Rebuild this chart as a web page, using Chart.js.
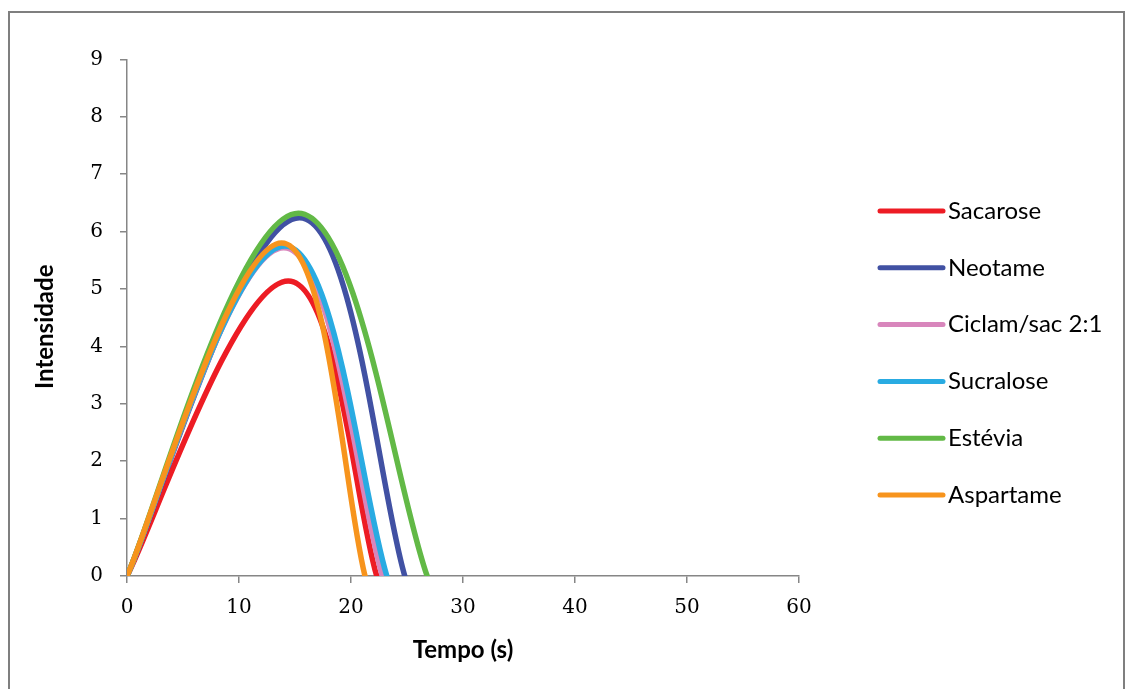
<!DOCTYPE html>
<html><head><meta charset="utf-8">
<script src="https://cdn.jsdelivr.net/npm/chart.js@4.4.0/dist/chart.umd.min.js"></script>
<style>
html,body{margin:0;padding:0;background:#fff;}
#wrap{position:relative;width:1130px;height:689px;overflow:hidden;background:#fff;}
#frame{position:absolute;left:8px;top:11px;width:1117px;height:720px;border:2.5px solid #7f7f7f;box-sizing:border-box;}
canvas{position:absolute;left:0;top:0;}
</style></head>
<body><div id="wrap"><div id="frame"></div><canvas id="c" width="1130" height="689"></canvas></div>
<script>
// ---- data (time-intensity curves) ----
const seriesNames = ['Sacarose', 'Neotame', 'Ciclam/sac 2:1', 'Sucralose', 'Estévia', 'Aspartame'];
const seriesColors = ['#ED1C24', '#4151A3', '#D886BC', '#29ABE2', '#62B946', '#F7941D'];

// time points: start, time of maximum intensity, total duration
const sacaroseT   = [0, 14.4, 22.3];
const sacaroseI   = [0, 5.14, 0];
const neotameT    = [0, 15.4, 24.8];
const neotameI    = [0, 6.24, 0];
const ciclamT     = [0, 14.0, 22.8];
const ciclamI     = [0, 5.72, 0];
const sucraloseT  = [0, 14.1, 23.2];
const sucraloseI  = [0, 5.75, 0];
const esteviaT    = [0, 15.3, 26.8];
const esteviaI    = [0, 6.32, 0];
const aspartameT  = [0, 13.8, 21.25];
const aspartameI  = [0, 5.8, 0];

const xTicks = [0, 10, 20, 30, 40, 50, 60];
const yTicks = [0, 1, 2, 3, 4, 5, 6, 7, 8, 9];
const xTitle = 'Tempo (s)';
const yTitle = 'Intensidade';

const allT = [sacaroseT, neotameT, ciclamT, sucraloseT, esteviaT, aspartameT];
const allI = [sacaroseI, neotameI, ciclamI, sucraloseI, esteviaI, aspartameI];

const datasets = seriesNames.map((name, i) => ({
  label: name,
  data: allT[i].map((t, k) => ({x: t, y: allI[i][k]})),
  borderColor: seriesColors[i],
  backgroundColor: seriesColors[i],
  borderWidth: 5.5,
  borderCapStyle: 'round',
  borderJoinStyle: 'round',
  pointRadius: 0,
  fill: false,
  tension: 0.4,
  order: seriesNames.length - i
}));

// Spreadsheet-style smoothing: shorter handles at the end points
const smoothEnds = {
  id: 'smoothEnds',
  beforeDatasetDraw(chart, args) {
    const meta = args.meta;
    meta.dataset.updateControlPoints(chart.chartArea, meta.iScale.axis);
    const pts = meta.data;
    const n = pts.length;
    if (n < 3) return;
    const a0 = 0.15, a1 = 0.25;
    const p0 = pts[0], p1 = pts[1];
    p0.cp2x = p0.x + a0 * (p1.x - p0.x);
    p0.cp2y = p0.y + a0 * (p1.y - p0.y);
    const pl = pts[n - 1], pk = pts[n - 2];
    pl.cp1x = pl.x - a1 * (pl.x - pk.x);
    pl.cp1y = pl.y - a1 * (pl.y - pk.y);
  }
};

const legendPlugin = {
  id: 'sideLegend',
  afterDraw(chart) {
    const ctx = chart.ctx;
    const ca = chart.chartArea;
    const x0 = ca.right + 81, x1 = ca.right + 144;
    ctx.save();
    seriesNames.forEach((name, i) => {
      const y = 211 + i * 56.8;
      ctx.strokeStyle = seriesColors[i];
      ctx.lineWidth = 5;
      ctx.lineCap = 'round';
      ctx.beginPath(); ctx.moveTo(x0, y); ctx.lineTo(x1, y); ctx.stroke();
      ctx.fillStyle = '#000';
      ctx.font = '24px Lato';
      ctx.textBaseline = 'middle';
      ctx.textAlign = 'left';
      ctx.fillText(name, x1 + 5, y);
    });
    ctx.restore();
  }
};

const axisColor = '#868686';
new Chart(document.getElementById('c'), {
  type: 'line',
  data: {datasets},
  plugins: [smoothEnds, legendPlugin],
  options: {
    responsive: false,
    animation: false,
    devicePixelRatio: 1,
    layout: {padding: {left: 0, top: 59.4, right: 331, bottom: 0}},
    plugins: {legend: {display: false}, tooltip: {enabled: false}},
    scales: {
      x: {
        type: 'linear', min: 0, max: 60,
        afterBuildTicks: (s) => { s.ticks = xTicks.map(v => ({value: v})); },
        afterFit: (s) => { s.height = 113; },
        ticks: {color: '#000', font: {family: 'DejaVu Serif', size: 20}, padding: 13, maxRotation: 0},
        grid: {drawOnChartArea: false, drawTicks: true, tickLength: 7, color: axisColor, lineWidth: 1.5},
        border: {color: axisColor, width: 1.5},
        title: {display: true, text: xTitle, color: '#000', font: {family: 'Lato', size: 24, weight: 'bold'}, padding: {top: 0, bottom: 24.6}}
      },
      y: {
        type: 'linear', min: 0, max: 9,
        afterBuildTicks: (s) => { s.ticks = yTicks.map(v => ({value: v})); },
        afterFit: (s) => { s.width = 127; },
        ticks: {color: '#000', font: {family: 'DejaVu Serif', size: 20}, padding: 17},
        grid: {drawOnChartArea: false, drawTicks: true, tickLength: 7, color: axisColor, lineWidth: 1.5},
        border: {color: axisColor, width: 1.5},
        title: {display: true, text: yTitle + '\u2003', color: '#000', font: {family: 'Lato', size: 24, weight: 'bold'}, padding: {top: 30.6, bottom: 0}}
      }
    }
  }
});
</script>
</body></html>
